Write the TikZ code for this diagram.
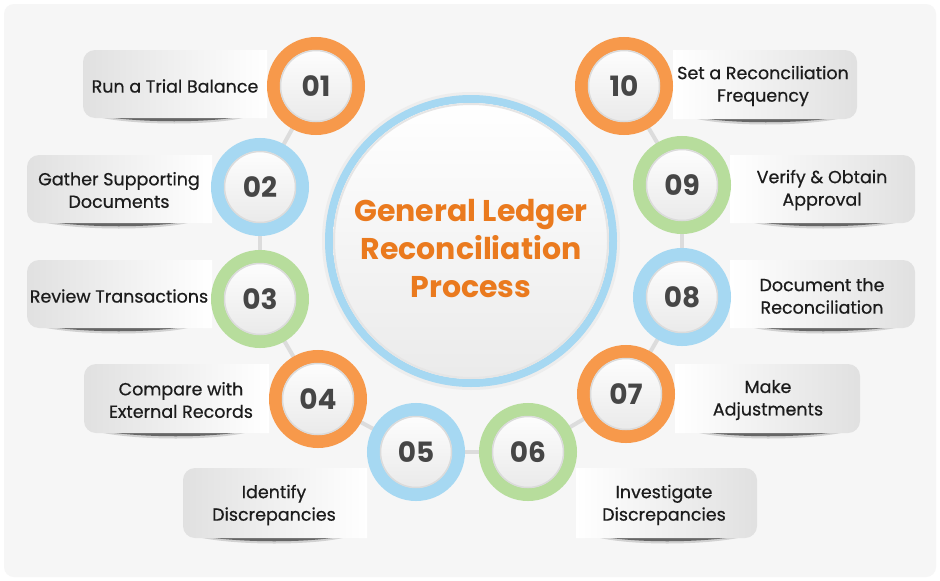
\documentclass[tikz,border=0pt]{standalone}
\usepackage{fontspec}
\setmainfont{Poppins}
\newfontfamily\labelfont{Poppins}[FakeBold=0.6]
\definecolor{ringO}{HTML}{F7994B}
\definecolor{ringB}{HTML}{A6D8F2}
\definecolor{ringG}{HTML}{B7DD9C}
\definecolor{titleO}{HTML}{EA7A1E}
\definecolor{numgray}{HTML}{464646}
\definecolor{labeltext}{HTML}{1C1C1C}
\definecolor{bgcol}{HTML}{F6F6F6}
\definecolor{linkcol}{HTML}{DCDCDC}
\tikzset{
  ringnode/.style={circle, minimum size=85pt, inner sep=0pt, line width=13pt, draw=#1,
    top color=white, bottom color=black!9,
    font=\fontsize{28}{28}\selectfont\bfseries, text=numgray},
  labelnode/.style={align=center, inner sep=0pt, text=labeltext,
    font=\labelfont\fontsize{17.5}{22.5}\selectfont},
  linkline/.style={draw=linkcol, line width=4pt},
  leftbox/.style={left color=black!12, right color=white},
  rightbox/.style={left color=white, right color=black!12},
}
% left box: L,T,R,B in px (y downward)
\newcommand{\lbox}[4]{%
  \fill[black!18] (#1+10,-#4+2) .. controls (#1+50,-#4-8) and (#3-50,-#4-8) .. (#3-16,-#4+2) -- cycle;
  \fill[black!60] (#1+16,-#4+2) .. controls (#1+60,-#4-5) and (#3-60,-#4-5) .. (#3-22,-#4+2) -- cycle;
  \path[leftbox] (#3,-#2) -- (#1+12,-#2) arc[start angle=90,end angle=180,radius=12]
     -- (#1,-#4+12) arc[start angle=180,end angle=270,radius=12] -- (#3,-#4) -- cycle;}
\newcommand{\rbox}[4]{%
  \fill[black!18] (#1+16,-#4+2) .. controls (#1+50,-#4-8) and (#3-50,-#4-8) .. (#3-10,-#4+2) -- cycle;
  \fill[black!60] (#1+22,-#4+2) .. controls (#1+60,-#4-5) and (#3-60,-#4-5) .. (#3-16,-#4+2) -- cycle;
  \path[rightbox] (#1,-#2) -- (#3-12,-#2) arc[start angle=90,end angle=0,radius=12]
     -- (#3,-#4+12) arc[start angle=0,end angle=-90,radius=12] -- (#1,-#4) -- cycle;}
\begin{document}
\begin{tikzpicture}[x=1pt,y=1pt]
\useasboundingbox (0,0) rectangle (940,-581);
\fill[white] (0,0) rectangle (940,-581);
\fill[bgcol, rounded corners=10] (4,-4) rectangle (936,-577);

% circle centres
\coordinate (p1) at (316,-86);
\coordinate (p2) at (260,-187);
\coordinate (p3) at (260,-299);
\coordinate (p4) at (318,-399);
\coordinate (p5) at (416,-452);
\coordinate (p6) at (528,-452);
\coordinate (p7) at (626,-394);
\coordinate (p8) at (682,-297);
\coordinate (p9) at (682,-185);
\coordinate (p10) at (624,-86);
\coordinate (pc) at (471,-241);

% connectors
\foreach \a/\b in {p1/p2,p2/p3,p3/p4,p4/p5,p5/p6,p6/p7,p7/p8,p8/p9,p9/p10}
  \draw[linkline] (\a) -- (\b);

% central circle
\fill[black!7] (pc) circle (149);
\draw[ringB, line width=8pt] (pc) circle (142);
\shade[top color=white, bottom color=black!8] (pc) circle (138);
\draw[black!10, line width=2pt] (pc) circle (137);
\node[font=\fontsize{30}{38}\selectfont\bfseries, text=titleO, align=center] (title)
  at (471,-249) {General Ledger\\Reconciliation\\Process};

% boxes
\lbox{83}{50}{267}{118}
\lbox{27}{155}{212}{223}
\lbox{27}{260}{212}{328}
\lbox{84}{364}{269}{433}
\lbox{183}{468}{367}{538}
\rbox{576}{468}{757}{538}
\rbox{675}{364}{860}{433}
\rbox{730}{260}{915}{328}
\rbox{730}{155}{915}{223}
\rbox{673}{50}{857}{119}

% labels
\node[labelnode] (t1) at (175,-86) {Run a Trial Balance};
\node[labelnode] (t2) at (119,-190) {Gather Supporting\\Documents};
\node[labelnode] (t3) at (119,-296) {Review Transactions};
\node[labelnode] (t4) at (181,-400) {Compare with\\External Records};
\node[labelnode] (t5) at (274,-505) {Identify\\Discrepancies};
\node[labelnode] (t6) at (664,-505) {Investigate\\Discrepancies};
\node[labelnode] (t7) at (768,-400) {Make\\Adjustments};
\node[labelnode] (t8) at (822,-296) {Document the\\Reconciliation};
\node[labelnode] (t9) at (822,-190) {Verify \& Obtain\\Approval};
\node[labelnode] (t10) at (763,-86) {Set a Reconciliation\\Frequency};

% numbered circles
\node[ringnode=ringO] (c1) at (p1) {01};
\node[ringnode=ringB] (c2) at (p2) {02};
\node[ringnode=ringG] (c3) at (p3) {03};
\node[ringnode=ringO] (c4) at (p4) {04};
\node[ringnode=ringB] (c5) at (p5) {05};
\node[ringnode=ringG] (c6) at (p6) {06};
\node[ringnode=ringO] (c7) at (p7) {07};
\node[ringnode=ringB] (c8) at (p8) {08};
\node[ringnode=ringG] (c9) at (p9) {09};
\node[ringnode=ringO] (c10) at (p10) {10};
\foreach \i in {1,...,10} \draw[black!14, line width=1.5pt] (p\i) circle (35.5);
\end{tikzpicture}
\end{document}
